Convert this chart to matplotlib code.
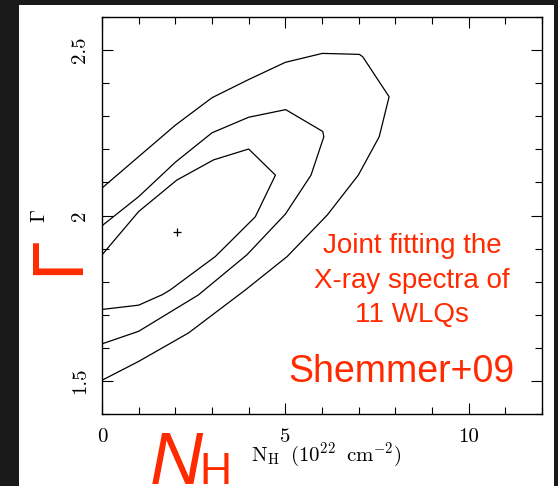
import numpy as np
import matplotlib.pyplot as plt
from matplotlib.patches import Rectangle
from matplotlib.ticker import MultipleLocator, FixedLocator, FixedFormatter

plt.rcParams['mathtext.fontset'] = 'cm'

# contour vertices (N_H in 1e22 cm^-2, photon index)
nh_outer = [0, 1, 2, 3, 4, 5, 6.01, 7.02, 7.11, 7.83, 7.56, 6.99, 6.14, 5.05, 3.91, 2.36, 1.0, 0]
gam_outer = [2.083, 2.178, 2.273, 2.356, 2.411, 2.463, 2.490, 2.487, 2.480, 2.359, 2.238,
             2.122, 2.001, 1.876, 1.775, 1.645, 1.559, 1.502]

nh_mid = [0, 1, 2, 3, 4, 5.01, 6.02, 6.05, 5.70, 5.0, 3.95, 2.63, 1.0, 0]
gam_mid = [1.969, 2.057, 2.161, 2.250, 2.297, 2.320, 2.254, 2.238, 2.122, 2.004, 1.881,
           1.760, 1.650, 1.612]

nh_in = [0, 1, 2.04, 3.04, 4.0, 4.73, 4.18, 3.5, 3.09, 1.86, 1.65, 1.0, 0]
gam_in = [1.881, 2.012, 2.107, 2.168, 2.201, 2.122, 1.996, 1.921, 1.876, 1.775, 1.761,
          1.729, 1.716]

best_nh = [2.05]
best_gam = [1.95]

xticks = [0, 5, 10]
xticklabels = ['0', '5', '10']
yticks = [1.5, 2.0, 2.5]
yticklabels = ['1.5', '2', '2.5']

note_lines = ['Joint fitting the', 'X-ray spectra of', '11 WLQs']
ref_label = 'Shemmer+09'

red = '#ff2a00'
W, H = 558, 486

fig = plt.figure(figsize=(W / 100, H / 100), dpi=100)
fig.patch.set_facecolor('#1a1a1a')
fig.patches.append(Rectangle((19 / W, 0), (554 - 19) / W, 1 - 5 / H,
                             transform=fig.transFigure, facecolor='white',
                             edgecolor='none', zorder=-5))

ax = fig.add_axes([102 / W, 1 - 414 / H, 440 / W, 397 / H])
ax.set_facecolor('white')
ax.set_zorder(2)

for xs, ys in [(nh_outer, gam_outer), (nh_mid, gam_mid), (nh_in, gam_in)]:
    ax.plot(xs, ys, color='black', lw=0.9)
ax.plot(best_nh, best_gam, marker='+', color='black', ms=6, mew=0.9, ls='none')

ax.set_xlim(0, 12)
ax.set_ylim(1.4, 2.6)
ax.xaxis.set_major_locator(FixedLocator(xticks))
ax.xaxis.set_major_formatter(FixedFormatter(xticklabels))
ax.xaxis.set_minor_locator(MultipleLocator(1))
ax.yaxis.set_major_locator(FixedLocator(yticks))
ax.yaxis.set_major_formatter(FixedFormatter(yticklabels))
ax.yaxis.set_minor_locator(MultipleLocator(0.1))

ax.tick_params(which='both', direction='in', top=True, right=True, width=0.8,
               labelsize=15, labelfontfamily='cmr10', colors='black')
ax.tick_params(which='major', length=8)
ax.tick_params(which='minor', length=5)
ax.tick_params(axis='x', pad=10)
ax.tick_params(axis='y', pad=9)
for lab in ax.get_yticklabels():
    lab.set_rotation(90)
    lab.set_va('center')
for sp in ax.spines.values():
    sp.set_linewidth(1.0)

ax.set_xlabel(r'$\mathrm{N_H\;\;(10^{22}\;\;cm^{-2})}$', fontsize=15)
ax.xaxis.label.set_va('center')
ax.xaxis.set_label_coords((326 - 102) / 440, (414 - 455) / 397)
ax.set_ylabel(r'$\Gamma$', fontsize=15)
ax.yaxis.label.set_va('center')
ax.yaxis.set_label_coords((39 - 102) / 440, 0.5)

# red annotations
for txt, base in zip(note_lines, [253, 288, 322]):
    ax.text((412 - 102) / 440, (414 - base) / 397, txt, transform=ax.transAxes,
            ha='center', va='baseline', color=red, fontsize=20,
            family='Liberation Sans')
ax.text((401 - 102) / 440, (414 - 382) / 397, ref_label, transform=ax.transAxes,
        ha='center', va='baseline', color=red, fontsize=27, family='Liberation Sans')

# big red axis symbols
fig.text(78 / W, 1 - 275 / H, '\u0393', rotation=90, rotation_mode='anchor',
         ha='left', va='baseline', color=red, fontsize=52, family='Liberation Sans')
fig.text(150 / W, 1 - 484 / H, 'N', ha='left', va='baseline', color=red,
         fontsize=53, style='italic', family='Liberation Sans')
fig.text(199 / W, 1 - 484 / H, 'H', ha='left', va='baseline', color=red,
         fontsize=32, family='Liberation Sans')

fig.savefig('out.png', dpi=100, facecolor=fig.get_facecolor())
